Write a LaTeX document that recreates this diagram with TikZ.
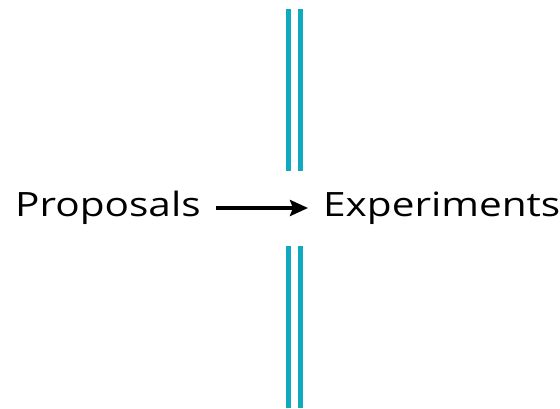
\documentclass[tikz,border=0pt]{standalone}
\usepackage{fontspec}
\setmainfont{Open Sans}
\usetikzlibrary{arrows.meta}
\definecolor{teal1}{RGB}{16,170,192}
\tikzset{
  label/.style={inner xsep=15pt, inner ysep=0pt, font=\fontsize{33.5}{40}\selectfont},
  barline/.style={draw=teal1, line width=5pt},
  flow/.style={line width=4.5pt, -{Stealth[length=18pt,width=16pt,inset=3pt]}}
}
\begin{document}
\begin{tikzpicture}[x=1pt,y=-1pt]
\useasboundingbox (0,0) rectangle (560,409);
\coordinate (t1a) at (288.5,9);
\coordinate (t1b) at (288.5,171);
\coordinate (t2a) at (300.5,9);
\coordinate (t2b) at (300.5,171);
\coordinate (b1a) at (288.5,246);
\coordinate (b1b) at (288.5,408);
\coordinate (b2a) at (300.5,246);
\coordinate (b2b) at (300.5,408);
\draw[barline] (t1a) -- (t1b);
\draw[barline] (t2a) -- (t2b);
\draw[barline] (b1a) -- (b1b);
\draw[barline] (b2a) -- (b2b);
\node[label, anchor=base west] (P) at (0,217) {\scalebox{1.21}[1]{Proposals}};
\node[label, anchor=base west] (E) at (308,217) {\scalebox{1.21}[1]{Experiments}};
\draw[flow] ([yshift=9pt]P.base east) -- ([yshift=9pt]E.base west);
\end{tikzpicture}
\end{document}
